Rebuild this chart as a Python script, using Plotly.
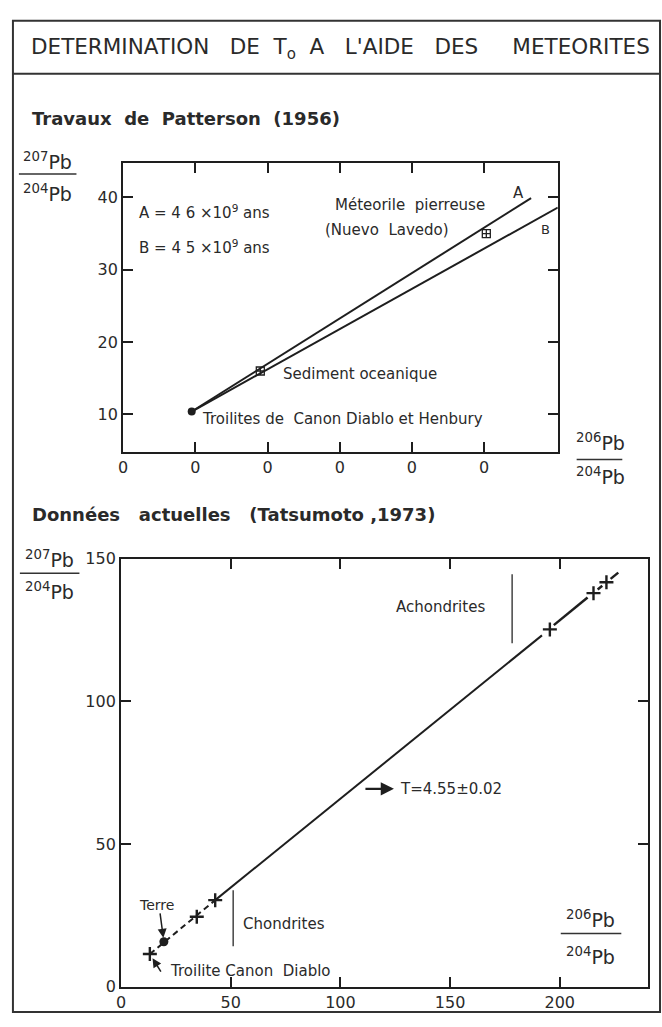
import plotly.graph_objects as go

W, H = 662, 1027
FONT = "DejaVu Sans"
INK = "#1e1e1e"
TXT = "#2a2a2a"

# ---------------- Data: Patterson (1956) ----------------
pat_xtick_vals = [0, 10, 20, 30, 40, 50]
pat_xtick_text = ["0", "0", "0", "0", "0", "0"]
pat_ytick_vals = [10, 20, 30, 40]
pat_troilite_x = [9.5]
pat_troilite_y = [10.4]
pat_squares_x = [19.0, 50.3]          # sédiment océanique, Nuevo Lavedo
pat_squares_y = [16.0, 35.0]
pat_lineA_x = [9.5, 56.5]
pat_lineA_y = [10.4, 39.9]
pat_lineB_x = [9.5, 60.2]
pat_lineB_y = [10.4, 38.6]

# ---------------- Data: Tatsumoto (1973) ----------------
tat_xtick_vals = [0, 50, 100, 150, 200]
tat_ytick_vals = [0, 50, 100, 150]
tat_troilite_x = [13.1]
tat_troilite_y = [11.4]
tat_terre_x = [19.5]
tat_terre_y = [15.7]
tat_chondrites_x = [34.5, 42.9]
tat_chondrites_y = [24.5, 30.3]
tat_achondrites_x = [195.5, 215.4, 221.3]
tat_achondrites_y = [125.2, 137.9, 141.7]
iso_dash_x = [13.1, 42.9]
iso_dash_y = [11.4, 30.3]
iso_solid_x = [42.9, 191.9]
iso_solid_y = [30.3, 123.1]
iso_upper_x = [197.3, 212.7, None, 217.3, 219.4, None, 223.2, 226.7]
iso_upper_y = [126.7, 136.4, None, 139.2, 140.5, None, 142.9, 145.1]
chond_bar_x = [51.1, 51.1]
chond_bar_y = [14.1, 33.8]
achond_bar_x = [178.3, 178.3]
achond_bar_y = [120.3, 144.5]


def px(x):
    return x / W


def py(y):
    return 1 - y / H


fig = go.Figure()

# --- top chart traces
fig.add_trace(go.Scatter(x=pat_lineA_x, y=pat_lineA_y, mode="lines",
                         line=dict(color=INK, width=2), xaxis="x", yaxis="y"))
fig.add_trace(go.Scatter(x=pat_lineB_x, y=pat_lineB_y, mode="lines",
                         line=dict(color=INK, width=2), xaxis="x", yaxis="y"))
fig.add_trace(go.Scatter(x=pat_squares_x, y=pat_squares_y, mode="markers",
                         marker=dict(symbol="square-cross-open", size=8, color=INK,
                                     line=dict(width=1.3, color=INK)),
                         xaxis="x", yaxis="y"))
fig.add_trace(go.Scatter(x=pat_troilite_x, y=pat_troilite_y, mode="markers",
                         marker=dict(symbol="circle", size=8, color=INK),
                         xaxis="x", yaxis="y"))

# --- bottom chart traces
fig.add_trace(go.Scatter(x=iso_dash_x, y=iso_dash_y, mode="lines",
                         line=dict(color=INK, width=2, dash="6px,4px"),
                         xaxis="x2", yaxis="y2"))
fig.add_trace(go.Scatter(x=iso_solid_x, y=iso_solid_y, mode="lines",
                         line=dict(color=INK, width=2), xaxis="x2", yaxis="y2"))
fig.add_trace(go.Scatter(x=iso_upper_x, y=iso_upper_y, mode="lines",
                         line=dict(color=INK, width=2.5), connectgaps=False,
                         xaxis="x2", yaxis="y2"))
fig.add_trace(go.Scatter(x=chond_bar_x, y=chond_bar_y, mode="lines",
                         line=dict(color="#444", width=1.5), xaxis="x2", yaxis="y2"))
fig.add_trace(go.Scatter(x=achond_bar_x, y=achond_bar_y, mode="lines",
                         line=dict(color="#444", width=1.5), xaxis="x2", yaxis="y2"))
plus_x = tat_troilite_x + tat_chondrites_x + tat_achondrites_x
plus_y = tat_troilite_y + tat_chondrites_y + tat_achondrites_y
fig.add_trace(go.Scatter(x=plus_x, y=plus_y, mode="markers",
                         marker=dict(symbol="cross-thin", size=10,
                                     line=dict(width=2.4, color=INK)),
                         xaxis="x2", yaxis="y2"))
fig.add_trace(go.Scatter(x=tat_terre_x, y=tat_terre_y, mode="markers",
                         marker=dict(symbol="circle", size=9, color=INK),
                         xaxis="x2", yaxis="y2"))

axis_common = dict(showline=True, linewidth=2, linecolor=INK, mirror="ticks",
                   ticks="inside", ticklen=10, tickwidth=2, tickcolor=INK,
                   showgrid=False, zeroline=False,
                   tickfont=dict(family=FONT, size=16, color=TXT))

fig.update_layout(
    width=W, height=H, margin=dict(l=0, r=0, t=0, b=0),
    paper_bgcolor="white", plot_bgcolor="white", showlegend=False,
    xaxis=dict(domain=[px(119), px(557)], range=[0, 60.2], anchor="y",
               tickmode="array", tickvals=pat_xtick_vals, ticktext=pat_xtick_text,
               **axis_common),
    yaxis=dict(domain=[py(451), py(157)], range=[4.85, 44.75], anchor="x",
               tickmode="array", tickvals=pat_ytick_vals, **axis_common),
    xaxis2=dict(domain=[px(117), px(648)], range=[0, 240.3], anchor="y2",
                tickmode="array", tickvals=tat_xtick_vals, **axis_common),
    yaxis2=dict(domain=[py(996), py(560)], range=[0, 150], anchor="x2",
                tickmode="array", tickvals=tat_ytick_vals, **axis_common),
)

ann = []


def ptext(text, x, y, size=14, xanchor="left", bold=False, color=TXT):
    ann.append(dict(text=text, x=px(x), y=py(y), xref="paper", yref="paper",
                    xanchor=xanchor, yanchor="middle", showarrow=False,
                    font=dict(family=FONT, size=size, color=color,
                              weight="bold" if bold else "normal")))


def dtext(text, x, y, axes, size=15, xanchor="left"):
    ann.append(dict(text=text, x=x, y=y, xref=axes[0], yref=axes[1],
                    xanchor=xanchor, yanchor="middle", showarrow=False,
                    font=dict(family=FONT, size=size, color=TXT)))


nb = "\u00a0"
# title
ptext(("DETERMINATION" + nb * 3 + "DE" + nb * 2 + "T<sub>o</sub>" + nb * 2 + "A" + nb * 3 +
       "L'AIDE" + nb * 3 + "DES" + nb * 5 + "METEORITES"), 24, 40, size=21.5)
# section titles
ptext("Travaux" + nb * 2 + "de" + nb * 2 + "Patterson" + nb * 2 + "(1956)", 25, 112, size=18, bold=True)
ptext("Données" + nb * 3 + "actuelles" + nb * 3 + "(Tatsumoto" + nb + ",1973)", 25, 515, size=18, bold=True)


# fraction labels
def fraction(num, den, cx, y_num, y_line, y_den, x0, x1):
    ptext(num, cx, y_num, size=19, xanchor="center")
    ptext(den, cx, y_den, size=19, xanchor="center")
    fig.add_shape(type="line", xref="paper", yref="paper",
                  x0=px(x0), x1=px(x1), y0=py(y_line), y1=py(y_line),
                  line=dict(color="#333", width=1.5))


fraction("<sup>207</sup>Pb", "<sup>204</sup>Pb", 43, 155, 168, 187, 14, 72)
fraction("<sup>206</sup>Pb", "<sup>204</sup>Pb", 600, 441, 459, 476, 576, 622)
fraction("<sup>207</sup>Pb", "<sup>204</sup>Pb", 45, 560, 575, 593, 15, 75)
fraction("<sup>206</sup>Pb", "<sup>204</sup>Pb", 590, 927, 942, 965, 560, 621)

# top chart labels
TA = ("x", "y")
dtext("A = 4 6 ×10<sup>9</sup> ans", 1.9, 38.0, TA)
dtext("B = 4 5 ×10<sup>9</sup> ans", 1.9, 33.1, TA)
dtext("Méteorile" + nb * 2 + "pierreuse", 29.0, 38.9, TA)
dtext("(Nuevo" + nb * 2 + "Lavedo)", 27.7, 35.5, TA)
dtext("A", 54.7, 40.6, TA, xanchor="center")
dtext("B", 58.5, 35.5, TA, xanchor="center", size=13)
dtext("Sediment" + nb + "oceanique", 21.8, 15.6, TA)
dtext("Troilites" + nb + "de" + nb * 2 + "Canon" + nb + "Diablo" + nb + "et" + nb + "Henbury", 10.6, 9.3, TA)

# bottom chart labels
BA = ("x2", "y2")
dtext("Achondrites", 167.0, 133.1, BA, xanchor="right")
dtext("Chondrites", 54.8, 22.1, BA)
dtext("Terre", 16.3, 28.6, BA, xanchor="center", size=14)
dtext("Troilite" + nb + "Canon" + nb * 2 + "Diablo", 21.3, 5.5, BA)
dtext("T=4.55±0.02", 126.2, 69.3, BA)


# arrows
def arrow(x, y, ax, ay, axes, width=1.5, standoff=4):
    ann.append(dict(text="", x=x, y=y, xref=axes[0], yref=axes[1], ax=ax, ay=ay,
                    axref="pixel", ayref="pixel", showarrow=True, arrowhead=2,
                    arrowsize=1.2, arrowwidth=width, arrowcolor=INK, standoff=standoff))


arrow(tat_terre_x[0], tat_terre_y[0], -4, -30, BA)
arrow(tat_troilite_x[0], tat_troilite_y[0], 12, 19, BA, standoff=5)
arrow(124.4, 69.3, -30, 0, BA, width=2.2, standoff=0)

fig.update_layout(annotations=ann)

# frame
fig.add_shape(type="rect", xref="paper", yref="paper", x0=px(8), x1=px(660),
              y0=py(1022), y1=py(12), line=dict(color="#333", width=2))
fig.add_shape(type="line", xref="paper", yref="paper", x0=px(8), x1=px(660),
              y0=py(66), y1=py(66), line=dict(color="#333", width=2))

fig.write_html("out.html", config={"displayModeBar": False},
               post_script="document.body.style.margin='0px';document.body.style.overflow='hidden';")
